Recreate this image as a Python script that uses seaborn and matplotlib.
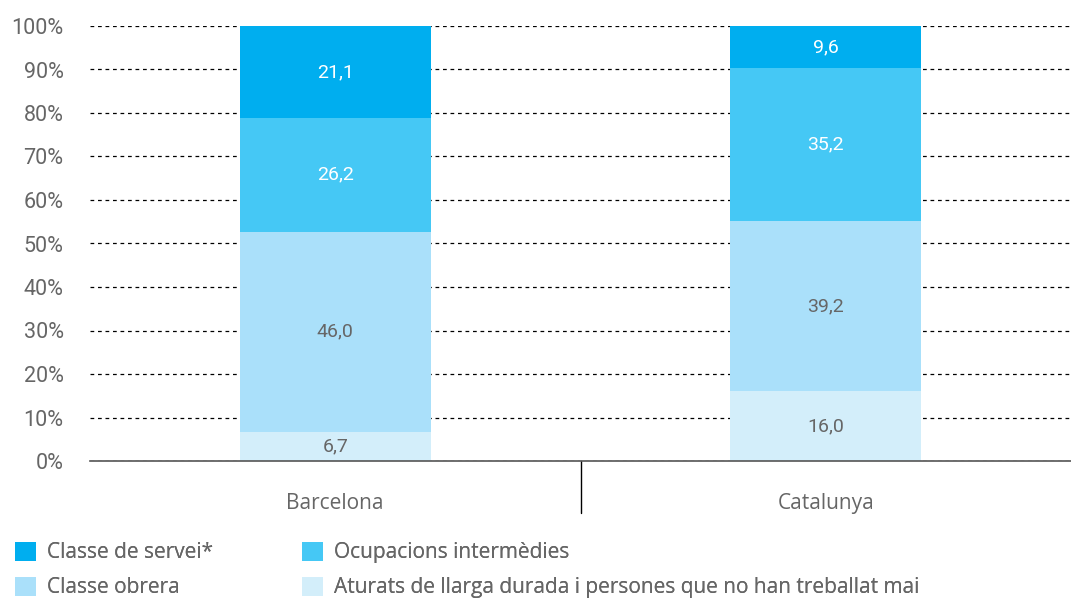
import numpy as np
import pandas as pd
import matplotlib
matplotlib.use("Agg")
import matplotlib.pyplot as plt
from matplotlib.patches import Patch
import seaborn as sns

# ── data ───────────────────────────────────────────────────────────────────
territoris    = ["Barcelona", "Catalunya"]
classe_servei = [21.1, 9.6]
ocupacions    = [26.2, 35.2]
classe_obrera = [46.0, 39.2]
aturats       = [6.7, 16.0]

# bottom -> top
layers = [
    ("Aturats de llarga durada i persones que no han treballat mai", aturats,       "#d3eefa", "#666666"),
    ("Classe obrera",                                                 classe_obrera, "#aae0fa", "#666666"),
    ("Ocupacions intermèdies",                                        ocupacions,    "#45c8f5", "white"),
    ("Classe de servei*",                                             classe_servei, "#00aeef", "white"),
]

sns.set_style("white")
plt.rcParams["font.family"] = ["Roboto", "DejaVu Sans"]
GREY = "#666666"
WIDE = ["Open Sans", "DejaVu Sans"]

fig = plt.figure(figsize=(10.71, 5.98), dpi=100)
ax = fig.add_axes([90 / 1071, 137 / 598, 981 / 1071, 435 / 598])

# stacked bars: draw cumulative totals, tallest first
cum = np.cumsum([np.array(v) for _, v, _, _ in layers], axis=0)
for i in range(len(layers) - 1, -1, -1):
    name, vals, col, _ = layers[i]
    df = pd.DataFrame({"territori": territoris, "valor": cum[i]})
    sns.barplot(data=df, x="territori", y="valor", color=col, width=0.39,
                saturation=1, ax=ax, zorder=3, edgecolor="none")

# labels in the middle of each segment
for i, (name, vals, col, tcol) in enumerate(layers):
    for j, v in enumerate(vals):
        base = cum[i - 1][j] if i > 0 else 0
        ax.text(j, base + v / 2, f"{v:.1f}".replace(".", ","), ha="center",
                va="center", fontsize=14, color=tcol, zorder=5)

ax.set_xlim(-0.5, 1.5)
ax.set_ylim(0, 100)
ax.set_yticks(range(0, 101, 10))
ax.set_yticklabels([f"{t}%" for t in range(0, 101, 10)])
ax.yaxis.grid(True, linestyle=(0, (3, 3)), color="black", linewidth=0.9, zorder=0)
ax.set_axisbelow(True)
ax.tick_params(axis="y", length=0, pad=19, labelsize=15.5, labelcolor=GREY)
ax.tick_params(axis="x", length=0, pad=23, labelcolor=GREY)
for t in ax.get_xticklabels():
    t.set_family(WIDE)
    t.set_fontsize(15)
ax.set_xlabel("")
ax.set_ylabel("")
for s in ["left", "right", "top"]:
    ax.spines[s].set_visible(False)
ax.spines["bottom"].set_color("#555555")
ax.spines["bottom"].set_linewidth(1.2)
ax.spines["bottom"].set_zorder(6)

# separator between categories
ax.plot([0.5, 0.5], [0, -12], color="black", lw=1, clip_on=False)

# legend: one column per legend so each starts where the reference does
cols = {name: col for name, _, col, _ in layers}
legend_cols = [
    (15, ["Classe de servei*", "Classe obrera"]),
    (302, ["Ocupacions intermèdies",
           "Aturats de llarga durada i persones que no han treballat mai"]),
]
for x0, names in legend_cols:
    handles = [Patch(facecolor=cols[n], edgecolor="none") for n in names]
    leg = fig.legend(handles, names, loc="upper left",
                     bbox_to_anchor=(x0 / 1071, (598 - 542) / 598), frameon=False,
                     prop={"family": WIDE, "size": 15},
                     handlelength=1.0, handleheight=1.0, handletextpad=0.55,
                     labelspacing=0.65, borderaxespad=0, borderpad=0)
    for t in leg.get_texts():
        t.set_color(GREY)
    fig.add_artist(leg)

fig.savefig("out.png", dpi=100)
